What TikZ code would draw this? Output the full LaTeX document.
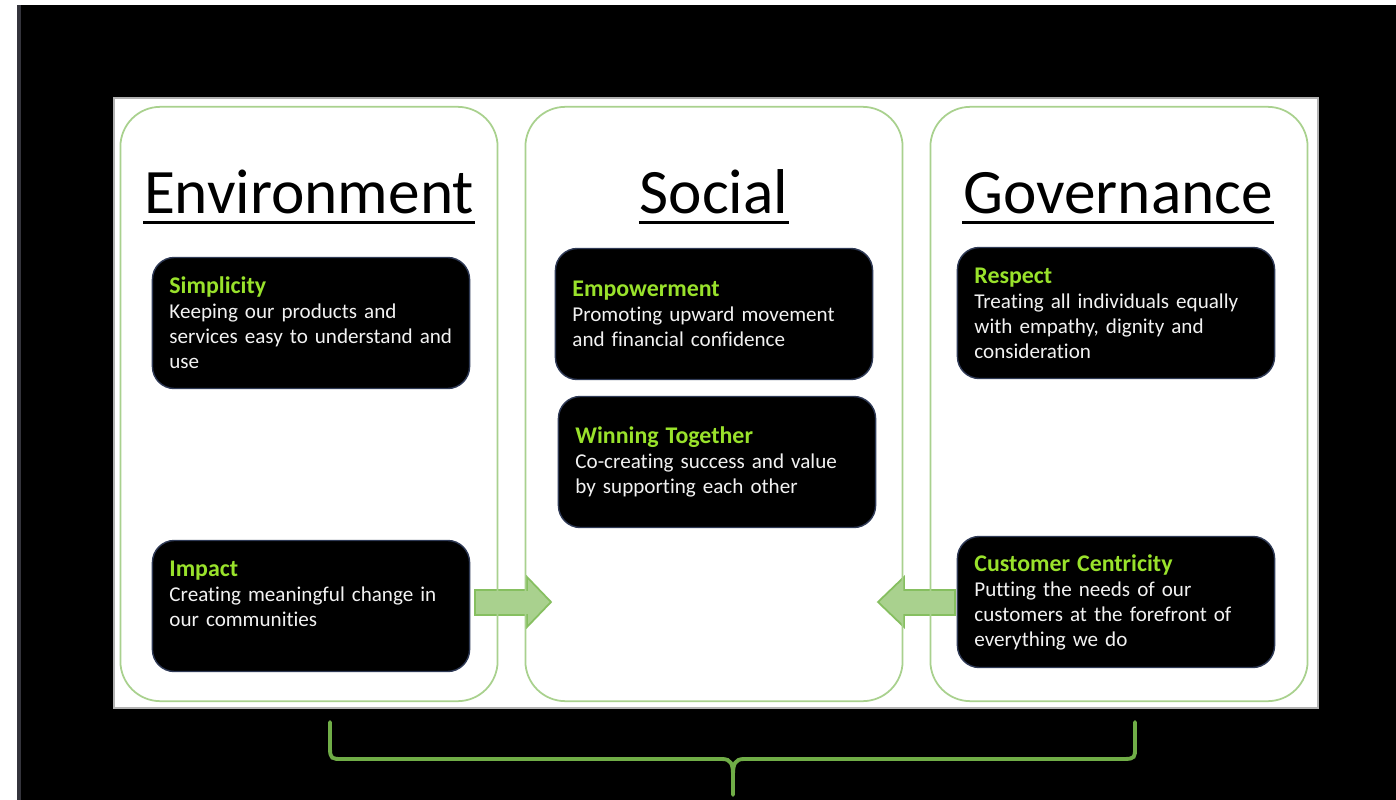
\documentclass[tikz,border=0pt]{standalone}
\usepackage{fontspec}
\setmainfont{Carlito}[Ligatures=NoCommon]
\usepackage{xcolor}

\definecolor{colline}{HTML}{A9D18E}
\definecolor{arrowedge}{HTML}{86BF60}
\definecolor{bracegreen}{HTML}{70AD47}
\definecolor{titlegreen}{HTML}{99E22B}
\definecolor{boxedge}{HTML}{2F3A56}
\definecolor{stripgray}{HTML}{34343C}

\newcommand{\valtitle}[1]{{\fontsize{6.8}{7.1}\selectfont\bfseries\color{titlegreen}#1}}

\begin{document}
\begin{tikzpicture}[x=0.01cm,y=-0.01cm,
    pillar/.style={draw=colline,line width=0.5pt,rounded corners=0.4cm,minimum width=3.77cm,minimum height=5.94cm},
    valbox/.style={draw=boxedge,line width=0.4pt,fill=black,rounded corners=0.22cm,minimum width=3.17cm,minimum height=1.31cm,text width=2.83cm,inner xsep=0.17cm,align=left,text=white!95!black,font=\fontsize{6}{7.1}\selectfont},
    headtext/.style={anchor=base,inner sep=0pt,font=\fontsize{18}{20}\selectfont},
    underl/.style={line width=0.85pt},
    blockarrow/.style={draw=arrowedge,fill=colline,line width=0.5pt},
    bracket/.style={draw=bracegreen,line width=1.1pt}]
  \useasboundingbox (0,0) rectangle (1396,800);
  % Background
  \fill[white] (0,0) rectangle (1396,800);
  \fill[stripgray] (17,5) rectangle (21,800);
  \fill[black] (21,5) rectangle (1396,800);
  \draw[fill=white,draw=gray!60,line width=0.3pt] (114,98) rectangle (1318,708);
  % Block arrows
  \draw[blockarrow] (475,590) -- (527,590) -- (527,577) -- (551,602) -- (527,627) -- (527,615) -- (475,615) -- cycle;
  \draw[blockarrow] (955,590) -- (904,590) -- (904,577) -- (878,602) -- (904,627) -- (904,615) -- (955,615) -- cycle;
  % Columns
  \node[pillar] (env) at (309,404) {};
  \node[pillar] (soc) at (714,404) {};
  \node[pillar] (gov) at (1119,404) {};
  % Headings
  \node[headtext] (envhead) at (309,213) {Environment};
  \node[headtext] (sochead) at (714,213) {Social};
  \node[headtext] (govhead) at (1118,213) {Governance};
  \foreach \h in {envhead,sochead,govhead}
    \draw[underl] ([yshift=-2.6pt]\h.base west) -- ([yshift=-2.6pt]\h.base east);
  % Value boxes
  \node[valbox] (simplicity) at (311,323) {\valtitle{Simplicity}\\Keeping our products and\\services easy to understand and\\use};
  \node[valbox] (impact) at (311,606) {\valtitle{Impact}\\Creating meaningful change in\\our communities\\\mbox{}};
  \node[valbox] (empower) at (714,314) {\valtitle{Empowerment}\\Promoting upward movement\\and financial confidence};
  \node[valbox] (winning) at (717,462) {\valtitle{Winning Together}\\Co-creating success and value\\by supporting each other};
  \node[valbox] (respect) at (1116,313) {\valtitle{Respect}\\Treating all individuals equally\\with empathy, dignity and\\consideration};
  \node[valbox] (customer) at (1116,602) {\valtitle{Customer Centricity}\\Putting the needs of our\\customers at the forefront of\\everything we do};
  % Brace
  \draw[bracket,line cap=round] (330,722) -- (330,748) .. controls (330,759) and (332,759) .. (342,759) -- (722,759) .. controls (731,759) and (733,764) .. (733,775) -- (733,795);
  \draw[bracket,line cap=round] (733,775) .. controls (733,764) and (735,759) .. (744,759) -- (1124,759) .. controls (1135,759) and (1135,757) .. (1135,748) -- (1135,722);
\end{tikzpicture}
\end{document}
